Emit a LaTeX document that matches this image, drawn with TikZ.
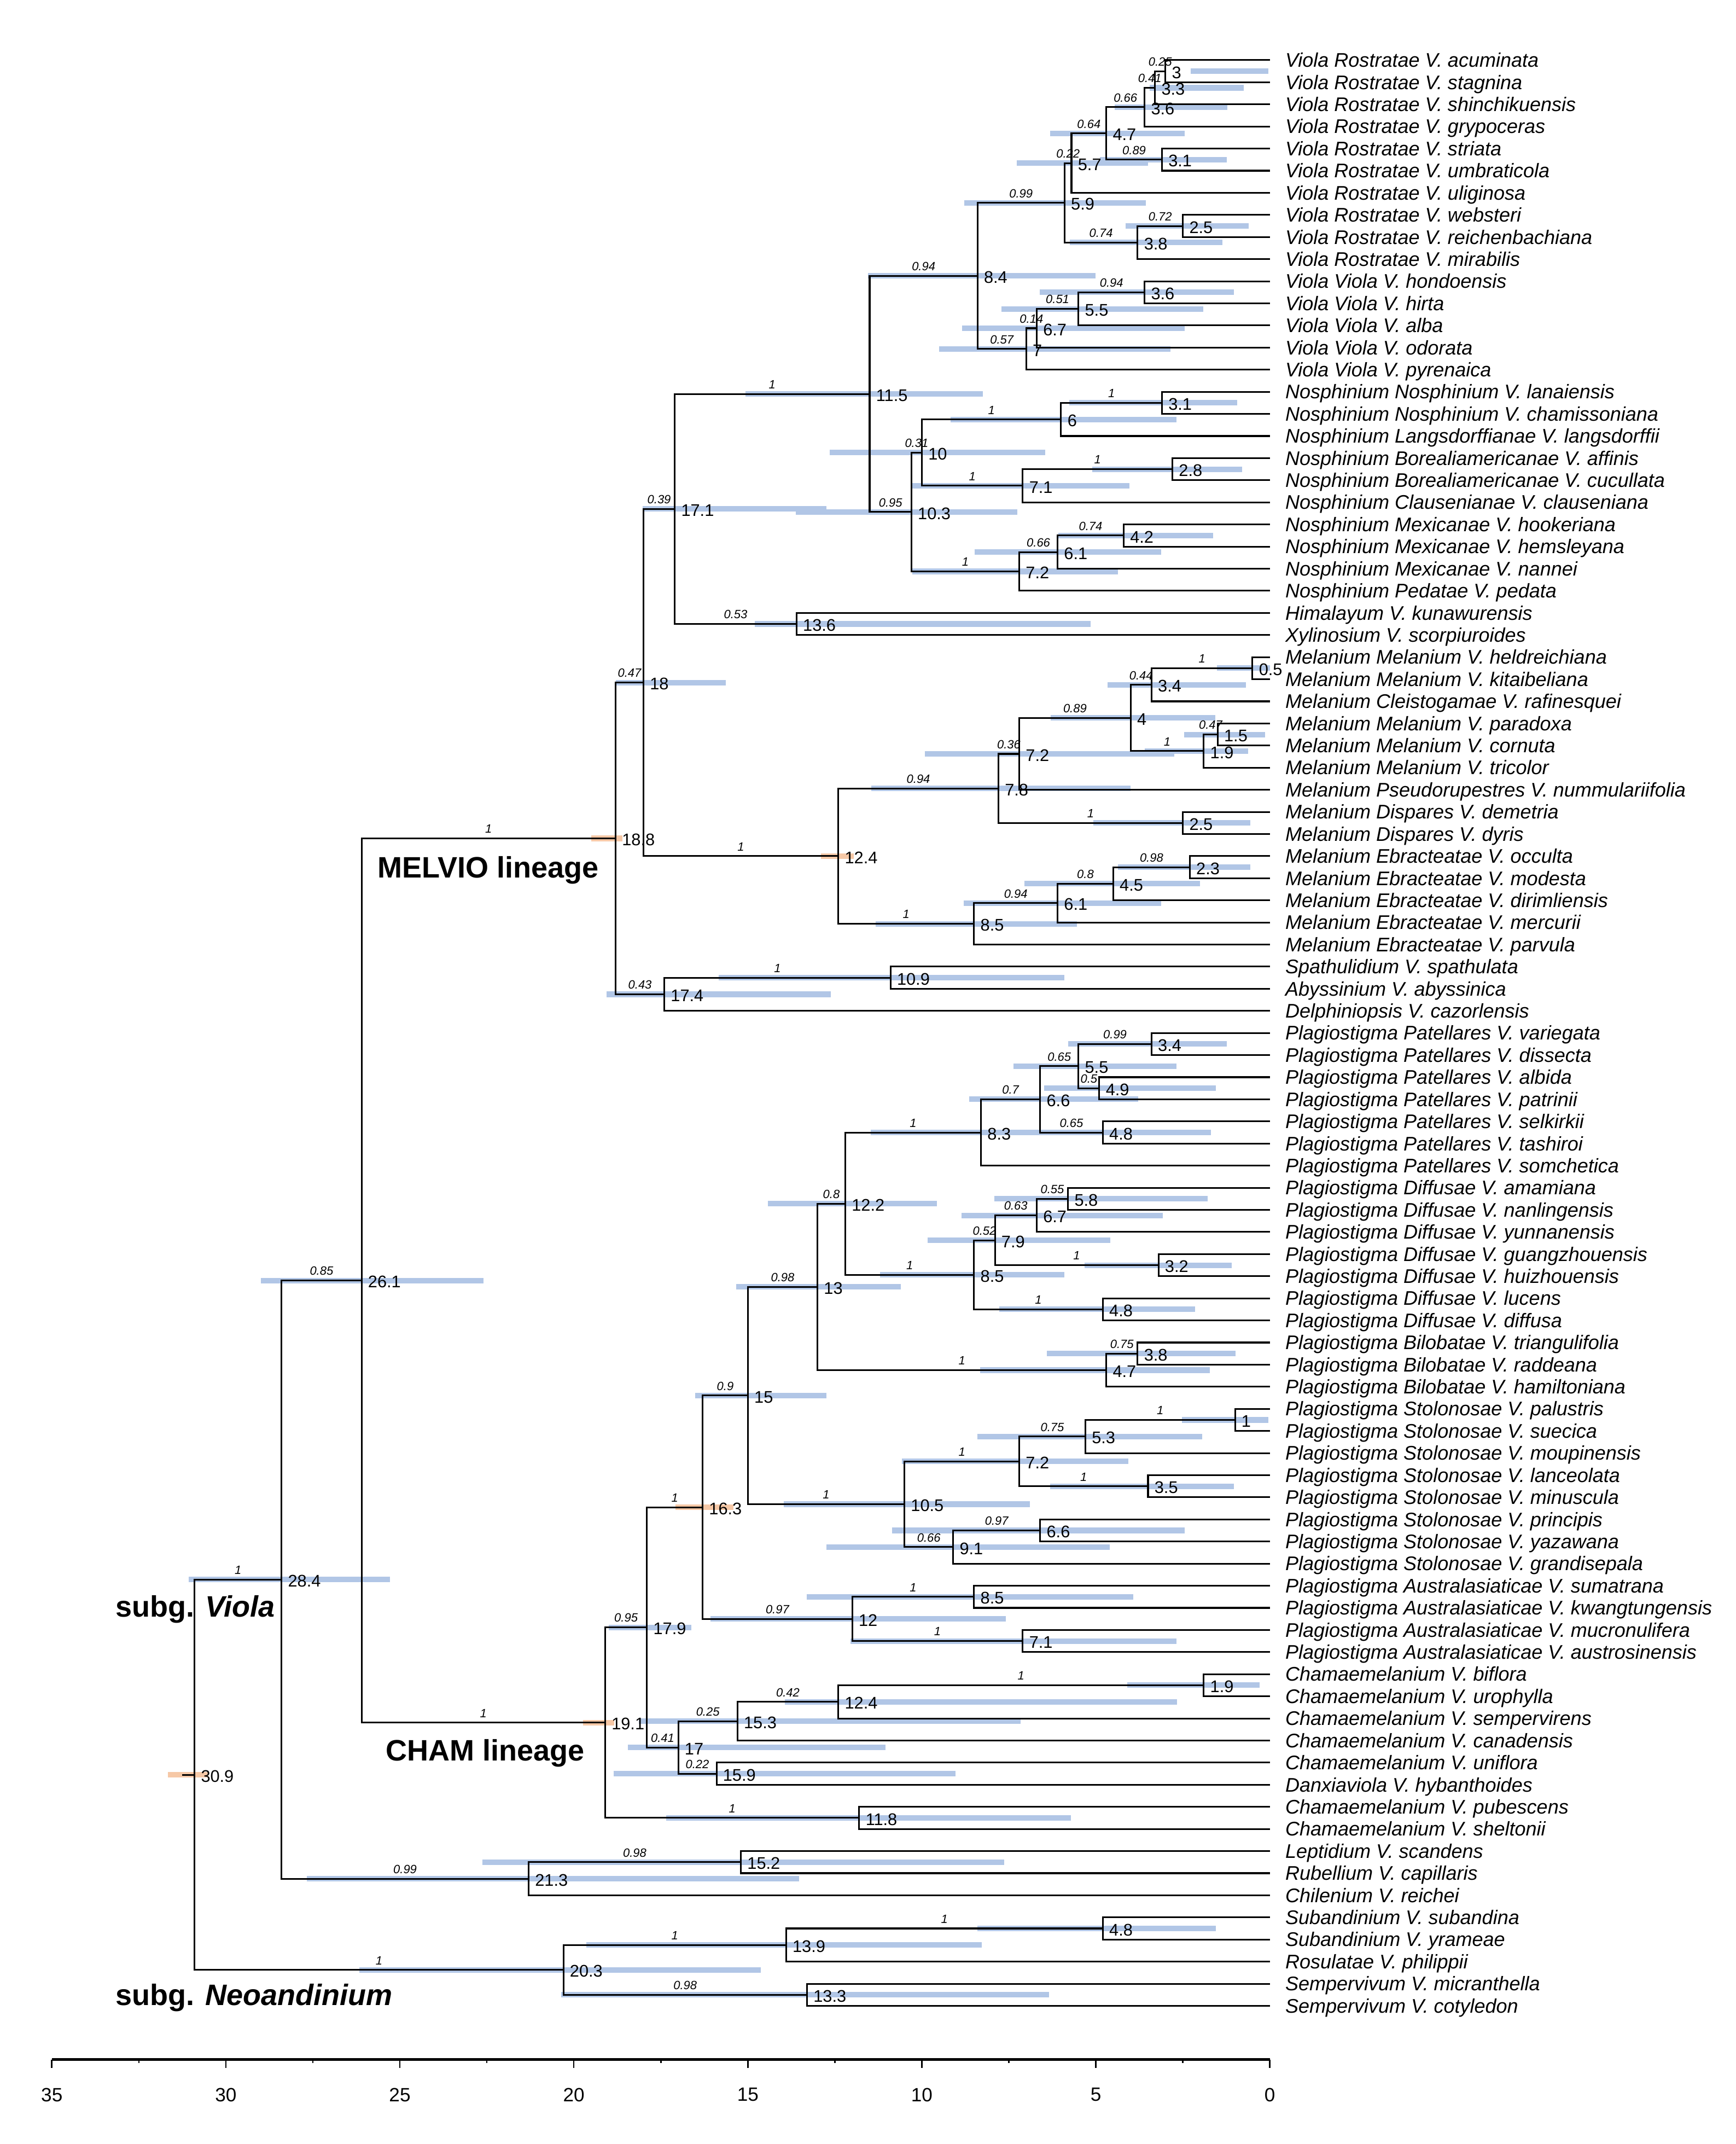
\documentclass[tikz,border=0pt]{standalone}
\usepackage{fontspec}
\setmainfont{Liberation Sans}
\usetikzlibrary{calc}
\pgfdeclarelayer{bars}
\pgfsetlayers{bars,main}
\definecolor{hpdblue}{RGB}{177,198,230}
\definecolor{priororange}{RGB}{246,200,166}
\def\xu{5.0914mm}
\tikzset{
    branch/.style={line width=0.7pt},
    hpd/.style={line width=2.3pt, hpdblue},
    prior/.style={line width=2.3pt, priororange},
    age/.style={anchor=base west, inner sep=0pt, xshift=2.5pt, yshift=-3pt, font=\fontsize{7}{8}\selectfont},
    pp/.style={anchor=base, inner sep=0pt, yshift=2.2pt, font=\fontsize{5}{6}\selectfont\itshape},
    taxon/.style={anchor=base west, inner sep=0pt, xshift=2.2mm, yshift=-2.9pt, font=\fontsize{8.2}{9}\selectfont\itshape},
    lineage/.style={anchor=base west, inner sep=0pt, yshift=-4.4pt, font=\fontsize{12.3}{14}\selectfont\bfseries},
    ticklab/.style={inner sep=0pt, font=\fontsize{8}{9}\selectfont},
  }
% support of clade #1 on its stem towards #2
\newcommand\ppmark[2]{%
  \ifcsname pp@#1\endcsname
    \node[pp] (p#1) at ($(#1)!0.5!(#2 |- #1)$) {\csname pp@#1\endcsname};
  \fi}
% [bar style] name, age, upper child, lower child, support, hpd old, hpd young
\newcommand\clade[8][hpd]{%
  \path let \p1=(#4), \p2=(#5) in coordinate (#2) at ({-#3*\xu},{(\y1+\y2)/2});
  \begin{pgfonlayer}{bars}
    \draw[#1] (-#7,0 |- #2) -- (-#8,0 |- #2);
  \end{pgfonlayer}
  \draw[branch] (#4) -| (#2) |- (#5);
  \node[age] (a#2) at (#2) {#3};
  \ppmark{#4}{#2}\ppmark{#5}{#2}%
  \expandafter\gdef\csname pp@#2\endcsname{#6}%
}

\begin{document}
\begin{tikzpicture}[x=5.0914mm, y=-3.234mm]
  \useasboundingbox (-36.49,-1.721) rectangle (13.395,95.25);

  %feuilles
  \foreach \t [count=\i] in {Viola Rostratae V. acuminata, Viola Rostratae V. stagnina,
      Viola Rostratae V. shinchikuensis, Viola Rostratae V. grypoceras, Viola Rostratae V. striata,
      Viola Rostratae V. umbraticola, Viola Rostratae V. uliginosa, Viola Rostratae V. websteri,
      Viola Rostratae V. reichenbachiana, Viola Rostratae V. mirabilis, Viola Viola V. hondoensis,
      Viola Viola V. hirta, Viola Viola V. alba, Viola Viola V. odorata, Viola Viola V. pyrenaica,
      Nosphinium Nosphinium V. lanaiensis, Nosphinium Nosphinium V. chamissoniana,
      Nosphinium Langsdorffianae V. langsdorffii, Nosphinium Borealiamericanae V. affinis,
      Nosphinium Borealiamericanae V. cucullata, Nosphinium Clausenianae V. clauseniana,
      Nosphinium Mexicanae V. hookeriana, Nosphinium Mexicanae V. hemsleyana,
      Nosphinium Mexicanae V. nannei, Nosphinium Pedatae V. pedata, Himalayum V. kunawurensis,
      Xylinosium V. scorpiuroides, Melanium Melanium V. heldreichiana, Melanium Melanium V. kitaibeliana,
      Melanium Cleistogamae V. rafinesquei, Melanium Melanium V. paradoxa, Melanium Melanium V. cornuta,
      Melanium Melanium V. tricolor, Melanium Pseudorupestres V. nummulariifolia,
      Melanium Dispares V. demetria, Melanium Dispares V. dyris, Melanium Ebracteatae V. occulta,
      Melanium Ebracteatae V. modesta, Melanium Ebracteatae V. dirimliensis,
      Melanium Ebracteatae V. mercurii, Melanium Ebracteatae V. parvula, Spathulidium V. spathulata,
      Abyssinium V. abyssinica, Delphiniopsis V. cazorlensis, Plagiostigma Patellares V. variegata,
      Plagiostigma Patellares V. dissecta, Plagiostigma Patellares V. albida,
      Plagiostigma Patellares V. patrinii, Plagiostigma Patellares V. selkirkii,
      Plagiostigma Patellares V. tashiroi, Plagiostigma Patellares V. somchetica,
      Plagiostigma Diffusae V. amamiana, Plagiostigma Diffusae V. nanlingensis,
      Plagiostigma Diffusae V. yunnanensis, Plagiostigma Diffusae V. guangzhouensis,
      Plagiostigma Diffusae V. huizhouensis, Plagiostigma Diffusae V. lucens,
      Plagiostigma Diffusae V. diffusa, Plagiostigma Bilobatae V. triangulifolia,
      Plagiostigma Bilobatae V. raddeana, Plagiostigma Bilobatae V. hamiltoniana,
      Plagiostigma Stolonosae V. palustris, Plagiostigma Stolonosae V. suecica,
      Plagiostigma Stolonosae V. moupinensis, Plagiostigma Stolonosae V. lanceolata,
      Plagiostigma Stolonosae V. minuscula, Plagiostigma Stolonosae V. principis,
      Plagiostigma Stolonosae V. yazawana, Plagiostigma Stolonosae V. grandisepala,
      Plagiostigma Australasiaticae V. sumatrana, Plagiostigma Australasiaticae V. kwangtungensis,
      Plagiostigma Australasiaticae V. mucronulifera, Plagiostigma Australasiaticae V. austrosinensis,
      Chamaemelanium V. biflora, Chamaemelanium V. urophylla, Chamaemelanium V. sempervirens,
      Chamaemelanium V. canadensis, Chamaemelanium V. uniflora, Danxiaviola V. hybanthoides,
      Chamaemelanium V. pubescens, Chamaemelanium V. sheltonii, Leptidium V. scandens,
      Rubellium V. capillaris, Chilenium V. reichei, Subandinium V. subandina,
      Subandinium V. yrameae, Rosulatae V. philippii, Sempervivum V. micranthella,
      Sempervivum V. cotyledon} {
    \coordinate (l\i) at (0,\i);
    \node[taxon] (t\i) at (l\i) {\t};
  }

  %Rostratae et Viola
  \clade{ro3}{3}{l1}{l2}{0.25}{2.27}{0.05}
  \clade{ro33}{3.3}{ro3}{l3}{0.41}{3.46}{0.75}
  \clade{ro36}{3.6}{ro33}{l4}{0.66}{4.46}{1.22}
  \clade{ro31}{3.1}{l5}{l6}{0.89}{4.88}{1.24}
  \clade{ro47}{4.7}{ro36}{ro31}{0.64}{6.31}{2.44}
  \clade{ro57}{5.7}{ro47}{l7}{0.22}{7.27}{3.5}
  \clade{ro25}{2.5}{l8}{l9}{0.72}{4.15}{0.61}
  \clade{ro38}{3.8}{ro25}{l10}{0.74}{5.75}{1.37}
  \clade{ro59}{5.9}{ro57}{ro38}{0.99}{8.78}{3.56}
  \clade{vi36}{3.6}{l11}{l12}{0.94}{6.61}{1.03}
  \clade{vi55}{5.5}{vi36}{l13}{0.51}{7.71}{1.91}
  \clade{vi67}{6.7}{vi55}{l14}{0.14}{8.84}{2.44}
  \clade{vi7}{7}{vi67}{l15}{0.57}{9.5}{2.85}
  \clade{vi84}{8.4}{ro59}{vi7}{0.94}{11.55}{5.01}

  %Nosphinium
  \clade{no31}{3.1}{l16}{l17}{1}{5.76}{0.94}
  \clade{no6}{6}{no31}{l18}{1}{9.17}{2.69}
  \clade{no28}{2.8}{l19}{l20}{1}{5.1}{0.79}
  \clade{no71}{7.1}{no28}{l21}{1}{10.27}{4.03}
  \clade{no10}{10}{no6}{no71}{0.31}{12.64}{6.45}
  \clade{no42}{4.2}{l22}{l23}{0.74}{6.07}{1.63}
  \clade{no61}{6.1}{no42}{l24}{0.66}{8.49}{3.13}
  \clade{no72}{7.2}{no61}{l25}{1}{10.27}{4.36}
  \clade{no103}{10.3}{no10}{no72}{0.95}{13.62}{7.25}
  \clade{vn115}{11.5}{vi84}{no103}{1}{15.07}{8.24}
  \clade{hx136}{13.6}{l26}{l27}{0.53}{14.8}{5.15}
  \clade{vn171}{17.1}{vn115}{hx136}{0.39}{18.03}{12.74}

  %Melanium
  \clade{me05}{0.5}{l28}{l29}{1}{1.52}{0}
  \clade{me34}{3.4}{me05}{l30}{0.44}{4.66}{0.68}
  \clade{me15}{1.5}{l31}{l32}{0.47}{2.46}{0.14}
  \clade{me19}{1.9}{me15}{l33}{1}{3.6}{0.62}
  \clade{me4}{4}{me34}{me19}{0.89}{6.3}{1.56}
  \clade{me72}{7.2}{me4}{l34}{0.36}{9.92}{2.75}
  \clade{me25}{2.5}{l35}{l36}{1}{5.07}{0.56}
  \clade{me78}{7.8}{me72}{me25}{0.94}{11.45}{4.0}
  \clade{me23}{2.3}{l37}{l38}{0.98}{4.36}{0.56}
  \clade{me45}{4.5}{me23}{l39}{0.8}{7.05}{2.0}
  \clade{me61}{6.1}{me45}{l40}{0.94}{8.8}{3.13}
  \clade{me85}{8.5}{me61}{l41}{1}{11.33}{5.55}
  \clade[prior]{me124}{12.4}{me78}{me85}{1}{12.9}{11.96}
  \clade{mv18}{18}{vn171}{me124}{0.47}{18.79}{15.63}
  \clade{sa109}{10.9}{l42}{l43}{1}{15.84}{5.9}
  \clade{sa174}{17.4}{sa109}{l44}{0.43}{19.06}{12.61}
  \clade[prior]{melvio}{18.8}{mv18}{sa174}{1}{19.5}{18.6}

  %Plagiostigma
  \clade{pa34}{3.4}{l45}{l46}{0.99}{5.79}{1.23}
  \clade{pa49}{4.9}{l47}{l48}{0.5}{6.48}{1.55}
  \clade{pa55}{5.5}{pa34}{pa49}{0.65}{7.37}{2.69}
  \clade{pa48}{4.8}{l49}{l50}{0.65}{7.0}{1.7}
  \clade{pa66}{6.6}{pa55}{pa48}{0.7}{8.64}{3.79}
  \clade{pa83}{8.3}{pa66}{l51}{1}{11.47}{5.0}
  \clade{di58}{5.8}{l52}{l53}{0.55}{7.91}{1.79}
  \clade{di67}{6.7}{di58}{l54}{0.63}{8.86}{3.08}
  \clade{di32}{3.2}{l55}{l56}{1}{5.32}{1.1}
  \clade{di79}{7.9}{di67}{di32}{0.52}{9.83}{4.59}
  \clade{di48}{4.8}{l57}{l58}{1}{7.77}{2.15}
  \clade{di85}{8.5}{di79}{di48}{1}{11.2}{5.9}
  \clade{pd122}{12.2}{pa83}{di85}{0.8}{14.43}{9.56}
  \clade{bi38}{3.8}{l59}{l60}{0.75}{6.4}{0.99}
  \clade{bi47}{4.7}{bi38}{l61}{1}{8.32}{1.72}
  \clade{pl13}{13}{pd122}{bi47}{0.98}{15.33}{10.6}
  \clade{st1}{1}{l62}{l63}{1}{2.52}{0.04}
  \clade{st53}{5.3}{st1}{l64}{0.75}{8.41}{1.94}
  \clade{st35}{3.5}{l65}{l66}{1}{6.31}{1.03}
  \clade{st72}{7.2}{st53}{st35}{1}{10.58}{4.07}
  \clade{st66}{6.6}{l67}{l68}{0.97}{10.86}{2.44}
  \clade{st91}{9.1}{st66}{l69}{0.66}{12.74}{4.6}
  \clade{st105}{10.5}{st72}{st91}{1}{13.96}{6.89}
  \clade{pl15}{15}{pl13}{st105}{0.9}{16.51}{12.74}
  \clade{au85}{8.5}{l70}{l71}{1}{13.31}{3.92}
  \clade{au71}{7.1}{l72}{l73}{1}{12.05}{2.69}
  \clade{au12}{12}{au85}{au71}{0.97}{16.07}{7.59}
  \clade[prior]{pl163}{16.3}{pl15}{au12}{1}{17.08}{15.42}

  %Chamaemelanium
  \clade{ch19}{1.9}{l74}{l75}{1}{4.1}{0.3}
  \clade{ch124}{12.4}{ch19}{l76}{0.42}{13.93}{2.66}
  \clade{ch153}{15.3}{ch124}{l77}{0.25}{18.14}{7.17}
  \clade{ch159}{15.9}{l78}{l79}{0.22}{18.86}{9.03}
  \clade{ch17}{17}{ch153}{ch159}{0.41}{18.44}{11.05}
  \clade{pc179}{17.9}{pl163}{ch17}{0.95}{19.0}{16.62}
  \clade{ch118}{11.8}{l80}{l81}{1}{17.35}{5.72}
  \clade[prior]{cham}{19.1}{pc179}{ch118}{1}{19.74}{18.84}

  %racine
  \clade{mc261}{26.1}{melvio}{cham}{0.85}{29.0}{22.59}
  \clade{lr152}{15.2}{l82}{l83}{0.98}{22.62}{7.64}
  \clade{lr213}{21.3}{lr152}{l84}{0.99}{27.67}{13.52}
  \clade{viola}{28.4}{mc261}{lr213}{1}{31.06}{25.28}
  \clade{su48}{4.8}{l85}{l86}{1}{8.41}{1.55}
  \clade{su139}{13.9}{su48}{l87}{1}{19.64}{8.28}
  \clade{se133}{13.3}{l88}{l89}{0.98}{20.37}{6.35}
  \clade{neoand}{20.3}{su139}{se133}{1}{26.16}{14.63}
  \clade[prior]{root}{30.9}{viola}{neoand}{}{31.66}{30.5}
  \draw[branch] (root) -- ++(-0.35,0);

  %lignees
  \node[lineage] (melviolab) at (-25.65,37.49) {MELVIO lineage};
  \node[lineage] (chamlab) at (-25.42,77.44) {CHAM lineage};
  \node[lineage] (violalab) at (-33.18,70.94) {subg. \textit{Viola}};
  \node[lineage] (neolab) at (-33.18,88.5) {subg. \textit{Neoandinium}};

  %axe
  \coordinate (ax0) at (0,91.43);
  \coordinate (ax35) at (-35,91.43);
  \draw[line width=1.1pt] (ax35) -- (ax0);
  \foreach \t in {0,5,...,35} {
    \draw[line width=0.6pt] (-\t,91.43) -- ++(0,0.37);
    \node[ticklab] (x\t) at (-\t,93.02) {\t};
  }
  \foreach \t in {2.5,7.5,...,32.5}
    \draw[line width=0.6pt] (-\t,91.43) -- ++(0,0.165);
\end{tikzpicture}
\end{document}
